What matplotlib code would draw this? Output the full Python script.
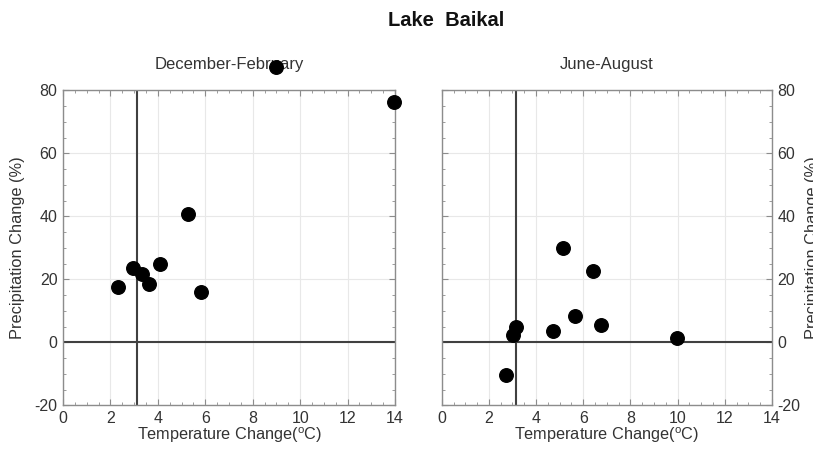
import matplotlib
matplotlib.use("Agg")
import matplotlib.pyplot as plt
from matplotlib.ticker import MultipleLocator

plt.rcParams['font.family'] = ['Liberation Sans', 'DejaVu Sans']
plt.rcParams['mathtext.fontset'] = 'custom'
plt.rcParams['mathtext.rm'] = 'Liberation Sans'
plt.rcParams['axes.unicode_minus'] = False

title = "Lake  Baikal"
season_titles = ["December-February", "June-August"]

djf_temp = [2.32, 2.95, 3.35, 3.63, 4.09, 5.29, 5.81, 13.97, 9.0]
djf_prec = [17.7, 23.5, 21.7, 18.4, 24.9, 40.7, 15.9, 76.4, 87.3]
djf_vline = 3.14

jja_temp = [2.72, 3.01, 3.15, 4.70, 5.14, 5.67, 6.42, 6.77, 9.99]
jja_prec = [-10.4, 2.2, 4.9, 3.6, 30.1, 8.4, 22.5, 5.5, 1.5]
jja_vline = 3.15

x_ticks = [0, 2, 4, 6, 8, 10, 12, 14]
y_ticks = [-20, 0, 20, 40, 60, 80]

fig = plt.figure(figsize=(8.13, 4.5), dpi=100)
fig.patch.set_facecolor('white')

positions = [[0.0775, 0.0993, 0.4084, 0.700], [0.5433, 0.0993, 0.4063, 0.700]]
datasets = [(djf_temp, djf_prec, djf_vline), (jja_temp, jja_prec, jja_vline)]

frame_col = '#8c8c8c'
txt_col = '#333333'

for i, (pos, (xs, ys, vl), st) in enumerate(zip(positions, datasets, season_titles)):
    ax = fig.add_axes(pos)
    ax.set_xlim(0, 14)
    ax.set_ylim(-20, 80)
    ax.set_xticks(x_ticks)
    ax.set_yticks(y_ticks)
    ax.xaxis.set_minor_locator(MultipleLocator(0.5))
    ax.yaxis.set_minor_locator(MultipleLocator(5))
    ax.grid(True, which='major', color='#e8e8e8', linewidth=0.8)
    ax.set_axisbelow(True)
    for s in ax.spines.values():
        s.set_color(frame_col)
        s.set_linewidth(1.0)
    ax.tick_params(which='both', direction='in', top=True, bottom=True,
                   left=True, right=True, color=frame_col, labelcolor=txt_col,
                   labelsize=11.5, pad=4)
    ax.tick_params(which='major', length=4)
    ax.tick_params(which='minor', length=2.5)
    if i == 1:
        ax.tick_params(labelleft=False, labelright=True)
    ax.axhline(0, color='#404040', linewidth=1.5, zorder=2)
    ax.axvline(vl, color='#404040', linewidth=1.5, zorder=2)
    ax.scatter(xs, ys, s=95, color='black', zorder=5, clip_on=False)
    ax.set_xlabel(r'Temperature Change($^{\rm o}$C)', fontsize=11.7, color=txt_col, labelpad=0)
    ax.set_title(st, fontsize=12, color=txt_col, pad=15)

fig.text(0.022, 0.45, "Precipitation Change (%)", rotation=90, fontsize=11.8,
         color=txt_col, ha='center', va='center')
fig.text(0.999, 0.45, "Precipitation Change (%)", rotation=90, fontsize=11.8,
         color=txt_col, ha='center', va='center')
fig.text(0.549, 0.955, title, fontsize=14.5, fontweight='bold', color='#111111',
         ha='center', va='center')

fig.savefig("out.png", dpi=100, facecolor='white')
